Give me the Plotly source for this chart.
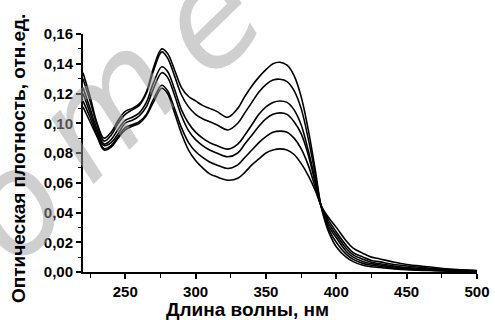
import plotly.graph_objects as go

wavelength = [220, 225, 230, 235, 240, 245, 250, 255, 260, 265, 270, 276, 280, 285, 290,
              295, 300, 305, 310, 315, 323, 330, 335, 340, 345, 350, 355, 360, 365, 370,
              375, 380, 385, 389, 392, 395, 400, 407, 412, 419, 425, 431, 440, 450, 465, 480, 500]

curve1 = [0.134, 0.118, 0.100, 0.090, 0.094, 0.102, 0.108, 0.110, 0.113, 0.121, 0.137, 0.150,
          0.147, 0.136, 0.124, 0.118, 0.115, 0.112, 0.110, 0.108, 0.104, 0.110, 0.118, 0.125,
          0.131, 0.136, 0.140, 0.141, 0.139, 0.132, 0.118, 0.096, 0.069, 0.045, 0.034, 0.026,
          0.017, 0.010, 0.007, 0.0045, 0.0035, 0.003, 0.0022, 0.0015, 0.001, 0.0006, 0.0003]
curve2 = [0.130, 0.115, 0.099, 0.088, 0.092, 0.100, 0.106, 0.109, 0.112, 0.120, 0.135, 0.148,
          0.144, 0.132, 0.119, 0.111, 0.106, 0.103, 0.101, 0.099, 0.0955, 0.100, 0.107, 0.114,
          0.121, 0.126, 0.129, 0.1296, 0.128, 0.122, 0.110, 0.090, 0.066, 0.045, 0.036, 0.028,
          0.020, 0.012, 0.0085, 0.0058, 0.0045, 0.0038, 0.0028, 0.002, 0.0013, 0.0008, 0.0004]
curve3 = [0.124, 0.110, 0.096, 0.086, 0.089, 0.096, 0.102, 0.104, 0.107, 0.114, 0.127, 0.138,
          0.135, 0.123, 0.109, 0.100, 0.094, 0.090, 0.087, 0.085, 0.0826, 0.086, 0.092, 0.099,
          0.106, 0.111, 0.114, 0.115, 0.114, 0.109, 0.099, 0.082, 0.062, 0.045, 0.037, 0.030,
          0.023, 0.014, 0.010, 0.007, 0.0055, 0.0047, 0.0035, 0.0025, 0.0016, 0.001, 0.0005]
curve4 = [0.120, 0.107, 0.094, 0.085, 0.087, 0.093, 0.100, 0.102, 0.105, 0.111, 0.123, 0.134,
          0.131, 0.119, 0.105, 0.095, 0.089, 0.085, 0.082, 0.080, 0.0775, 0.080, 0.086, 0.092,
          0.098, 0.103, 0.106, 0.107, 0.106, 0.101, 0.093, 0.079, 0.060, 0.045, 0.038, 0.032,
          0.025, 0.016, 0.0115, 0.0085, 0.0065, 0.0055, 0.0042, 0.003, 0.002, 0.0012, 0.0006]
curve5 = [0.115, 0.104, 0.092, 0.083, 0.085, 0.091, 0.097, 0.099, 0.101, 0.106, 0.116, 0.1255,
          0.122, 0.110, 0.097, 0.087, 0.081, 0.077, 0.074, 0.072, 0.0696, 0.072, 0.077, 0.082,
          0.087, 0.091, 0.094, 0.0947, 0.094, 0.090, 0.083, 0.072, 0.057, 0.045, 0.039, 0.034,
          0.027, 0.018, 0.013, 0.010, 0.0078, 0.0068, 0.0052, 0.004, 0.0027, 0.0016, 0.0008]
curve6 = [0.111, 0.101, 0.091, 0.082, 0.084, 0.090, 0.0955, 0.098, 0.100, 0.105, 0.114, 0.1235,
          0.120, 0.107, 0.093, 0.082, 0.075, 0.070, 0.066, 0.064, 0.0617, 0.063, 0.067, 0.072,
          0.076, 0.080, 0.082, 0.0828, 0.082, 0.079, 0.073, 0.065, 0.055, 0.045, 0.040, 0.036,
          0.030, 0.021, 0.016, 0.0125, 0.010, 0.0088, 0.0068, 0.005, 0.0035, 0.002, 0.001]

series = [curve1, curve2, curve3, curve4, curve5, curve6]

x_ticks = [250, 300, 350, 400, 450, 500]
y_ticks = [0.00, 0.02, 0.04, 0.06, 0.08, 0.10, 0.12, 0.14, 0.16]

x_title = "Длина волны, нм"
y_title = "Оптическая плотность, отн.ед."
watermark_letters = ["o", "m", "e"]

font_fam = "Liberation Sans, Arial, sans-serif"

# plot area geometry (pixels)
L, R, T, B = 83, 18, 34, 48
PW, PH = 495 - L - R, 320 - T - B

def px(xpix):
    return (xpix - L) / PW

def py(ypix):
    return (320 - B - ypix) / PH

fig = go.Figure()
for s in series:
    fig.add_trace(go.Scatter(x=wavelength, y=s, mode="lines",
                             line=dict(color="black", width=1.6, shape="spline", smoothing=1.0),
                             showlegend=False, hoverinfo="skip"))

fig.update_layout(
    width=495, height=320,
    margin=dict(l=L, r=R, t=T, b=B, autoexpand=False),
    paper_bgcolor="white", plot_bgcolor="white",
    separators=", ",
    font=dict(family=font_fam, color="black"),
    xaxis=dict(range=[220, 500], tickvals=x_ticks, ticks="outside", ticklen=5, tickwidth=1.5,
               tickcolor="black", showline=True, linecolor="black", linewidth=2,
               showgrid=False, zeroline=False, automargin=False,
               tickfont=dict(family=font_fam, size=15, weight="bold"),
               minor=dict(dtick=25, tick0=200, ticks="outside", ticklen=4, tickcolor="black", tickwidth=1)),
    yaxis=dict(range=[0, 0.16], tickvals=y_ticks, tickformat=".2f", ticks="outside", ticklen=5,
               tickwidth=1.5, tickcolor="black", showline=True, linecolor="black", linewidth=2,
               showgrid=False, zeroline=False, automargin=False,
               tickfont=dict(family=font_fam, size=15, weight="bold"),
               minor=dict(dtick=0.01, tick0=0, ticks="outside", ticklen=3, tickcolor="black", tickwidth=1)),
)

wm_pos = [(12, 205), (105, 105), (207, 18)]
for letter, (wx, wy) in zip(watermark_letters, wm_pos):
    fig.add_annotation(text=letter, x=px(wx), y=py(wy), xref="paper", yref="paper",
                       xanchor="center", yanchor="middle", showarrow=False, textangle=-44,
                       font=dict(family="DejaVu Sans", size=140, style="italic",
                                 color="rgba(160,160,160,0.5)"))
fig.add_annotation(text=x_title, x=px(247), y=py(310), xref="paper", yref="paper",
                   xanchor="center", yanchor="middle", showarrow=False,
                   font=dict(family=font_fam, size=19, weight="bold", color="black"))
fig.add_annotation(text=y_title, x=px(18), y=py(159), xref="paper", yref="paper",
                   xanchor="center", yanchor="middle", showarrow=False, textangle=-90,
                   font=dict(family=font_fam, size=19, weight="bold", color="black"))

fig.write_html("out.html", config={"displayModeBar": False},
               post_script="document.body.style.margin='0';document.body.style.padding='0';")
